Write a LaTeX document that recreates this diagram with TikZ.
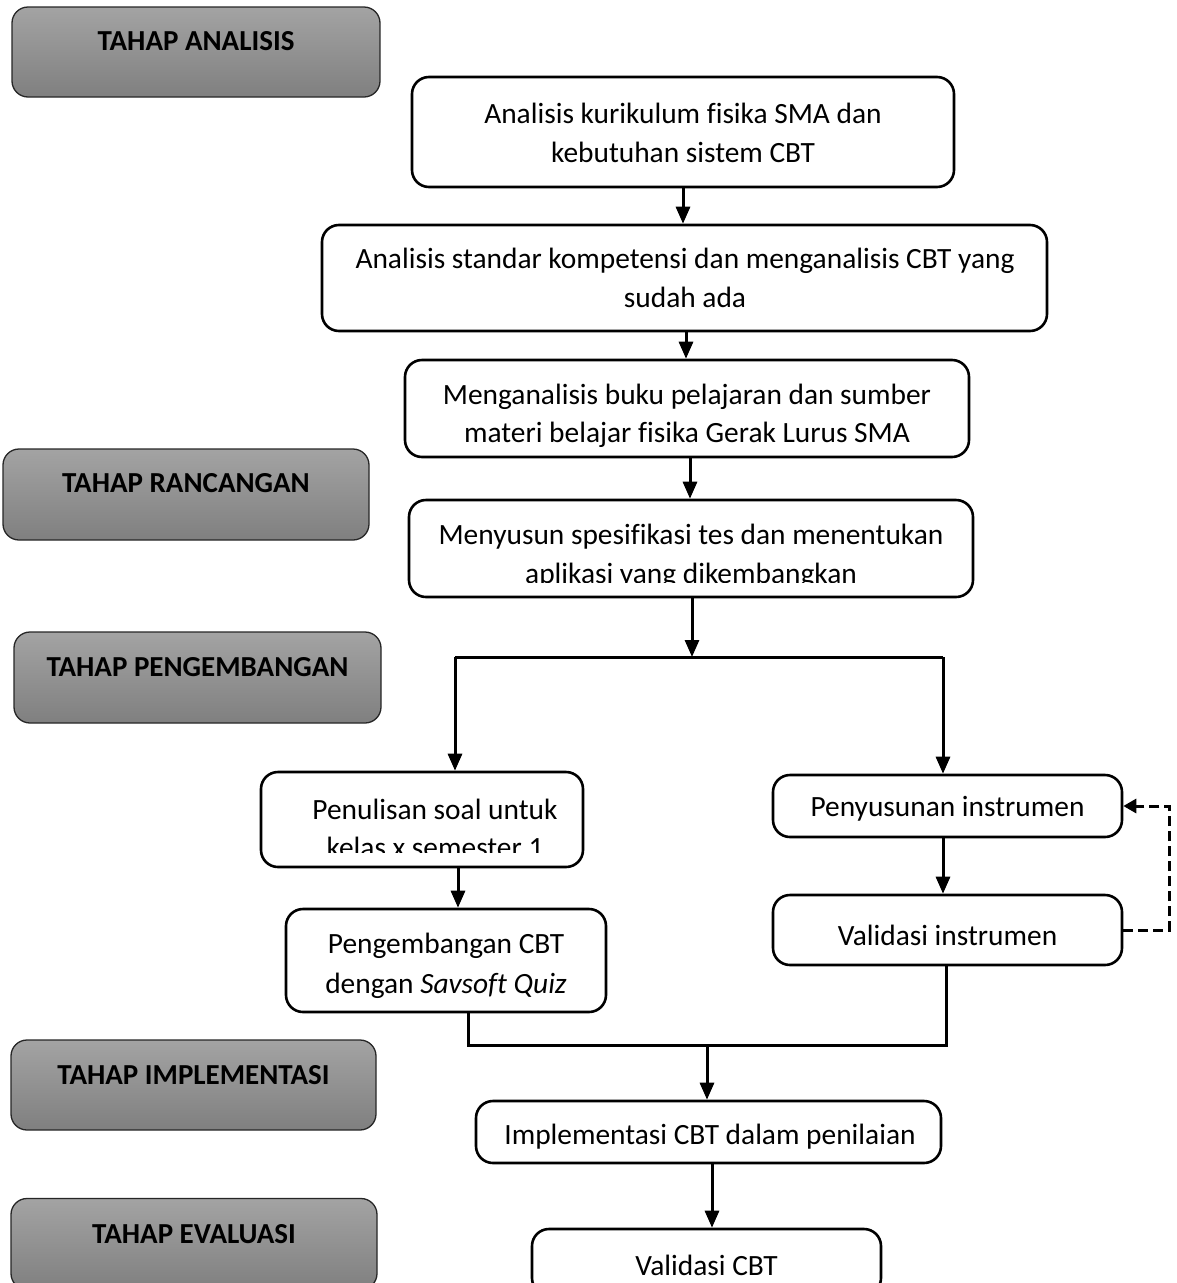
\documentclass[tikz,border=0pt]{standalone}
\usepackage{fontspec}
\setmainfont{Carlito}[Ligatures=NoCommon]
\usetikzlibrary{arrows.meta,calc}
\begin{document}
\begin{tikzpicture}[x=1pt,y=-1pt,
  wbox/.style={draw=black, line width=2.6pt, rounded corners=17pt, fill=white, inner sep=0pt},
  gbox/.style={draw=black!85, line width=1.3pt, rounded corners=16pt, top color=black!36, bottom color=black!50, inner sep=0pt},
  gtxt/.style={font=\fontsize{29}{35}\selectfont\bfseries, inner sep=0pt, anchor=base},
  wtxt/.style={font=\fontsize{29.4}{39}\selectfont, inner sep=0pt, anchor=base},
  arr/.style={line width=3pt, -{Triangle[width=14pt,length=17pt]}},
  conn/.style={line width=3pt, line join=miter},
  dashconn/.style={line width=3pt, dash pattern=on 10pt off 5pt, -{Triangle[width=14pt,length=13pt]}}
]
\useasboundingbox (0,0) rectangle (1176,1283);

% ---- stage boxes (left) ----
\node[gbox, minimum width=368pt, minimum height=90pt] (G1) at (196,52) {};
\node[gtxt] (G1t) at (196,50) {TAHAP ANALISIS};
\node[gbox, minimum width=366pt, minimum height=91pt] (G2) at (186,494.5) {};
\node[gtxt] (G2t) at (186,492) {TAHAP RANCANGAN};
\node[gbox, minimum width=367pt, minimum height=91pt] (G3) at (197.5,677.5) {};
\node[gtxt] (G3t) at (197.5,676) {TAHAP PENGEMBANGAN};
\node[gbox, minimum width=365pt, minimum height=90pt] (G4) at (193.5,1085) {};
\node[gtxt] (G4t) at (193.5,1084) {TAHAP IMPLEMENTASI};
\node[gbox, minimum width=366pt, minimum height=91pt] (G5) at (194,1244) {};
\node[gtxt] (G5t) at (194,1243) {TAHAP EVALUASI};

% ---- flow boxes ----
\node[wbox, minimum width=542pt, minimum height=110pt] (A) at (683,132) {};
\node[wtxt] (A1) at (683,123) {Analisis kurikulum fisika SMA dan};
\node[wtxt] (A2) at (683,162) {kebutuhan sistem CBT};

\node[wbox, minimum width=725pt, minimum height=106pt] (B) at (684.5,278) {};
\node[wtxt] (B1) at (685,268) {Analisis standar kompetensi dan menganalisis CBT yang};
\node[wtxt] (B2) at (685,307) {sudah ada};

\node[wbox, minimum width=564pt, minimum height=97pt] (C) at (687,408.5) {};
\node[wtxt] (C1) at (687,404) {Menganalisis buku pelajaran dan sumber};
\node[wtxt] (C2) at (687,442) {materi belajar fisika Gerak Lurus SMA};

\node[wbox, minimum width=564pt, minimum height=97pt] (D) at (691,548.5) {};
\node[wtxt] (D1) at (691,544) {Menyusun spesifikasi tes dan menentukan};
\begin{scope}
  \clip (409,500) rectangle (973,582);
  \node[wtxt] (D2) at (691,583) {aplikasi yang dikembangkan};
\end{scope}

\node[wbox, minimum width=322pt, minimum height=95pt] (E) at (422,819.5) {};
\node[wtxt] (E1) at (435,819) {Penulisan soal untuk};
\begin{scope}
  \clip (261,772) rectangle (583,852);
  \node[wtxt] (E2) at (435,857) {kelas x semester 1};
\end{scope}

\node[wbox, minimum width=320pt, minimum height=103pt] (F) at (446,960.5) {};
\node[wtxt] (F1) at (446,953) {Pengembangan CBT};
\node[wtxt] (F2) at (446,993) {dengan \textit{Savsoft Quiz}};

\node[wbox, minimum width=349pt, minimum height=62pt] (G) at (947.5,806) {};
\node[wtxt] (Gt) at (947.5,816) {Penyusunan instrumen};

\node[wbox, minimum width=349pt, minimum height=70pt] (H) at (947.5,930) {};
\node[wtxt] (Ht) at (947.5,945) {Validasi instrumen};

\node[wbox, minimum width=465pt, minimum height=62pt] (I) at (708.5,1132) {};
\node[wtxt] (It) at (710,1144) {Implementasi CBT dalam penilaian};

\node[wbox, minimum width=349pt, minimum height=66pt] (J) at (706.5,1262) {};
\node[wtxt] (Jt) at (706.5,1275) {Validasi CBT};

% ---- connectors ----
\draw[arr] (A.south) -- (A.south |- B.north);
\draw[arr] (686,331) coordinate (bB) -- (bB |- C.north);
\draw[arr] (690,457) coordinate (bC) -- (bC |- D.north);

\coordinate (J0) at (692,657);
\coordinate (JL) at (455,657);
\coordinate (JR) at (943,657);
\draw[arr] (D.south -| J0) -- (J0);
\draw[conn] (JL) -- (JR);
\draw[arr] (JL) -- (JL |- E.north);
\draw[arr] (JR) -- (JR |- G.north);

\draw[arr] (458,867) coordinate (bE) -- (bE |- F.north);
\draw[arr] (G.south -| JR) -- (JR |- H.north);

\draw[dashconn] (H.east) -- ++(46,0) coordinate (dc) -- (dc |- G.east) -- (G.east);

\coordinate (ML) at (468,1045);
\coordinate (MR) at (946,1045);
\coordinate (MM) at (707,1045);
\draw[conn] (F.south -| ML) -- (ML) -- (MR) -- (MR |- H.south);
\draw[arr] (MM) -- (MM |- I.north);
\draw[arr] (712,1163) coordinate (bI) -- (bI |- J.north);
\end{tikzpicture}
\end{document}
